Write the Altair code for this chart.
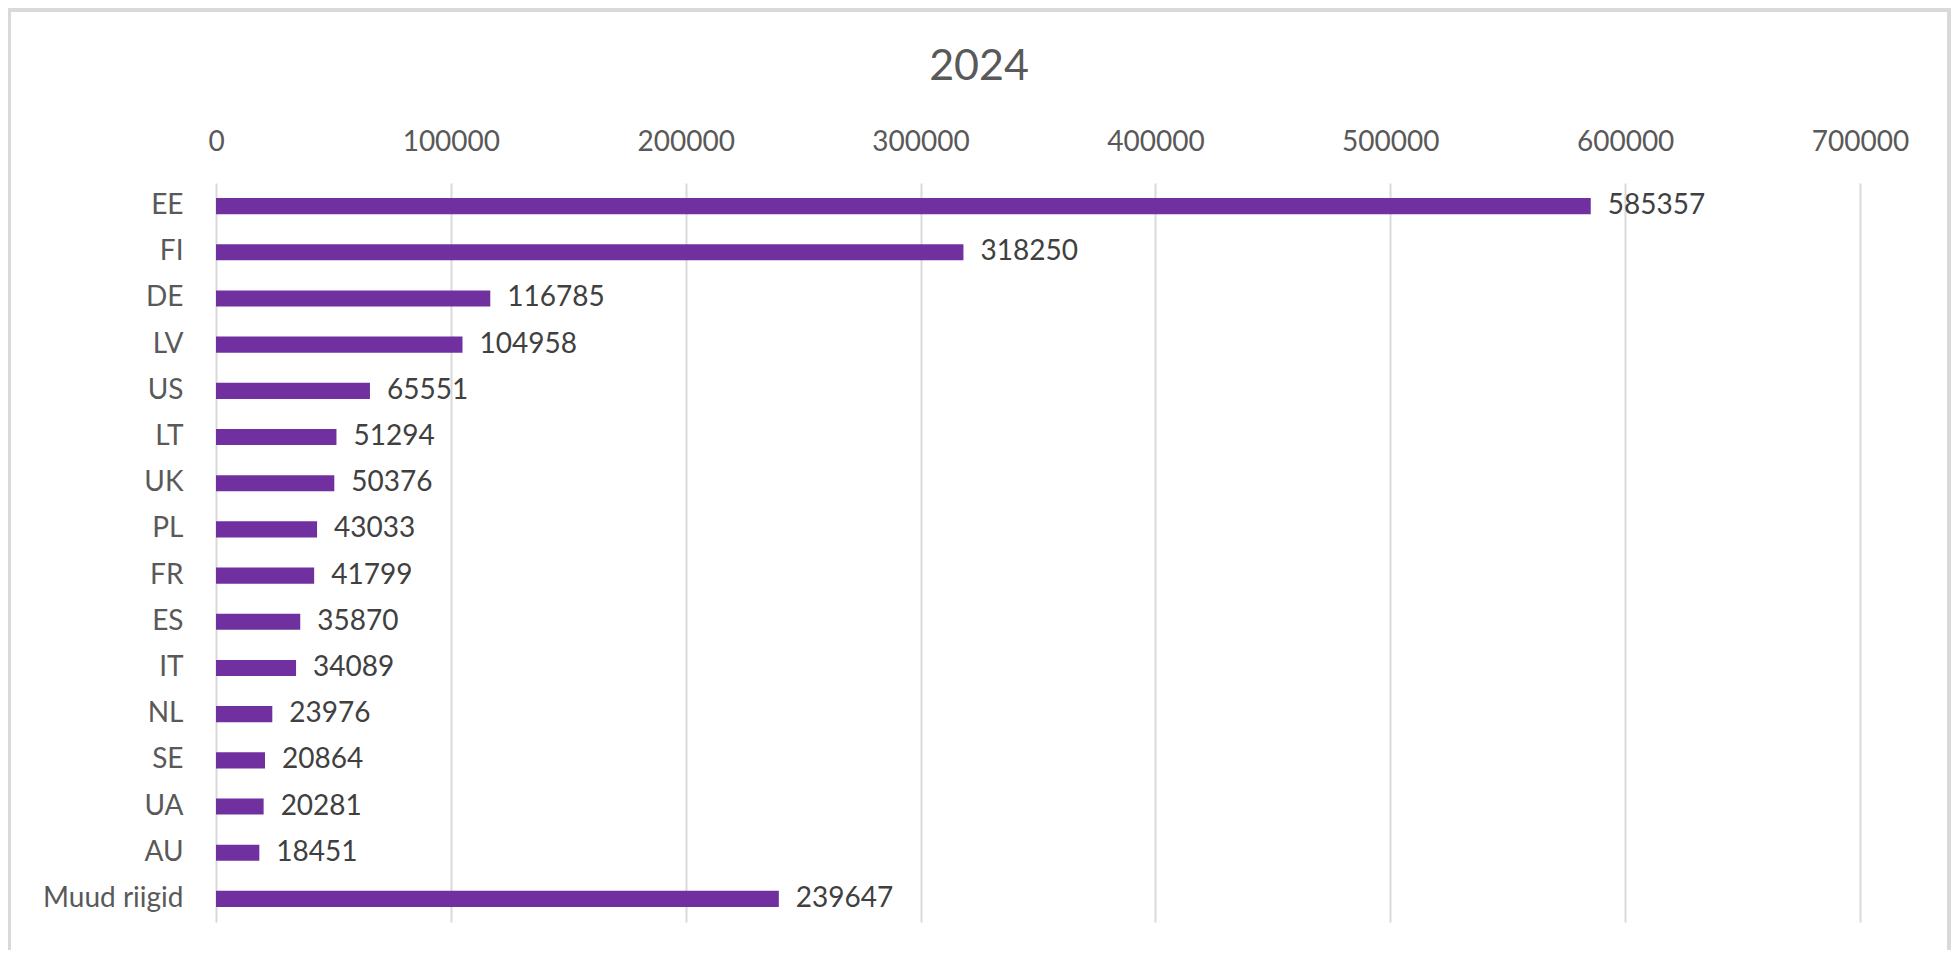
import altair as alt
import pandas as pd

countries = ["EE", "FI", "DE", "LV", "US", "LT", "UK", "PL", "FR", "ES", "IT",
             "NL", "SE", "UA", "AU", "Muud riigid"]
values = [585357, 318250, 116785, 104958, 65551, 51294, 50376, 43033, 41799,
          35870, 34089, 23976, 20864, 20281, 18451, 239647]
tick_values = [0, 100000, 200000, 300000, 400000, 500000, 600000, 700000]
title_text = "2024"

df = pd.DataFrame({"country": countries, "value": values})

FONT = "Lato"
PLOT_W = 1644
PLOT_H = 739

x_enc = alt.X(
    "value:Q",
    scale=alt.Scale(domain=[0, 700000], nice=False, zero=True),
    axis=alt.Axis(
        orient="top", values=tick_values, format="d", title=None,
        ticks=False, tickSize=0, domain=False, grid=True,
        gridColor="#d9d9d9", gridWidth=2, labelFlush=False,
        labelFont=FONT, labelFontSize=28, labelColor="#595959",
        labelPadding=41, labelBaseline="middle",
    ),
)
y_enc = alt.Y(
    "country:N", sort=countries,
    scale=alt.Scale(paddingInner=0.65, paddingOuter=0.325),
    axis=alt.Axis(
        title=None, ticks=False, tickSize=0, domain=False, grid=False,
        labelFont=FONT, labelFontSize=28, labelColor="#595959",
        labelPadding=33,
    ),
)

base = alt.Chart(df)

bars = base.mark_bar(color="#7030a0").encode(x=x_enc, y=y_enc)

labels = base.mark_text(
    align="left", baseline="middle", dx=17, font=FONT, fontSize=28,
    color="#404040",
).encode(x="value:Q", y=alt.Y("country:N", sort=countries), text="value:Q")

frame = base.mark_rect(
    fill="transparent", stroke="#d9d9d9", strokeWidth=3, clip=False,
).encode(
    x=alt.value(-207), x2=alt.value(1733),
    y=alt.value(-173), y2=alt.value(900),
)

chart = alt.layer(frame, bars, labels).properties(
    width=PLOT_W, height=PLOT_H,
    background="white",
    title=alt.TitleParams(
        title_text, font=FONT, fontSize=43, fontWeight="normal",
        color="#595959", anchor="middle", frame="group", dx=-59,
        offset=0, dy=114, baseline="alphabetic",
    ),
    autosize=alt.AutoSizeParams(type="none"),
    padding={"left": 208, "top": 175, "right": 91, "bottom": 28},
).configure_view(stroke="transparent", strokeWidth=0)

chart.save("out.html", embed_options={"renderer": "svg", "actions": False})
